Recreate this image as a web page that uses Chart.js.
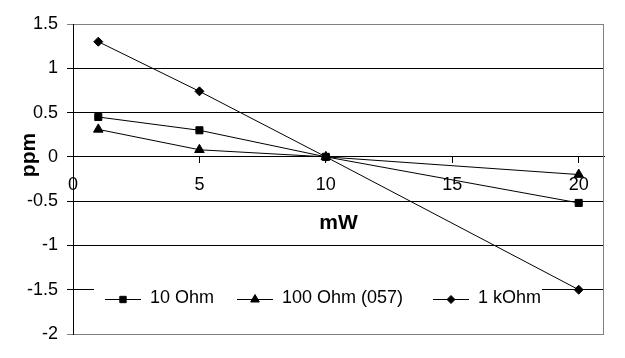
<!DOCTYPE html>
<html>
<head>
<meta charset="utf-8">
<script src="https://cdn.jsdelivr.net/npm/chart.js@4/dist/chart.umd.min.js"></script>
<style>
  html, body { margin: 0; padding: 0; background: #ffffff; }
  #wrap { width: 625px; height: 358px; position: relative; }
</style>
</head>
<body>
<div id="wrap"><canvas id="c" width="625" height="358"></canvas></div>
<script>
// ---- data ----
const xValues = [1, 5, 10, 20];            // mW
const ohm10   = [0.45, 0.30, 0.00, -0.52]; // ppm
const ohm100  = [0.31, 0.08, 0.00, -0.20];
const kohm1   = [1.30, 0.74, 0.00, -1.50];
const seriesNames = ['10 Ohm', '100 Ohm (057)', '1 kOhm'];
const pointStyles = ['rect', 'triangle', 'rectRot'];
const xTickValues = [0, 5, 10, 15, 20];
const yMin = -2, yMax = 1.5, yStep = 0.5;
const xMin = 0, xMax = 21;
const xTitle = 'mW';
const yTitle = 'ppm';

const FONT = "'Liberation Sans', Arial, sans-serif";
const seriesValues = [ohm10, ohm100, kohm1];

function pts(vals) { return xValues.map((x, i) => ({ x: x, y: vals[i] })); }

const radii = { rect: 5, triangle: 5.5, rectRot: 4.5 };

const datasets = seriesValues.map((vals, i) => ({
  label: seriesNames[i],
  data: pts(vals),
  borderColor: '#000000',
  backgroundColor: '#000000',
  borderWidth: 1,
  pointStyle: pointStyles[i],
  pointRadius: radii[pointStyles[i]],
  pointBorderWidth: 1,
  pointBackgroundColor: '#000000',
  pointBorderColor: '#000000',
  tension: 0,
  fill: false
}));

// custom legend drawn inside plot area + right border + y title
const decor = {
  id: 'decor',
  beforeDatasetsDraw(chart) {
    const { ctx, chartArea: a } = chart;
    ctx.save();
    ctx.strokeStyle = '#808080';
    ctx.lineWidth = 1;
    ctx.beginPath();
    ctx.moveTo(Math.round(a.right) - 0.5, a.top);
    ctx.lineTo(Math.round(a.right) - 0.5, a.bottom);
    ctx.stroke();
    ctx.restore();
  },
  afterDraw(chart) {
    const { ctx } = chart;
    ctx.save();
    // y axis title
    ctx.fillStyle = '#000';
    ctx.font = 'bold 21px ' + FONT;
    ctx.textAlign = 'center';
    ctx.textBaseline = 'middle';
    ctx.translate(29, 155);
    ctx.rotate(-Math.PI / 2);
    ctx.fillText(yTitle, 0, 0);
    ctx.restore();

    // legend
    ctx.save();
    ctx.fillStyle = '#ffffff';
    ctx.fillRect(94, 280, 448, 38);
    const starts = [105, 237, 433];
    const ly = 299.5;
    ctx.font = '18px ' + FONT;
    ctx.textBaseline = 'middle';
    ctx.textAlign = 'left';
    chart.data.datasets.forEach((ds, i) => {
      const x0 = starts[i];
      ctx.strokeStyle = '#000';
      ctx.fillStyle = '#000';
      ctx.lineWidth = 1;
      ctx.beginPath();
      ctx.moveTo(x0, ly);
      ctx.lineTo(x0 + 36, ly);
      ctx.stroke();
      Chart.helpers.drawPoint(ctx, {
        pointStyle: ds.pointStyle,
        radius: ds.pointStyle === 'rect' ? 4.5 : ds.pointStyle === 'triangle' ? 5 : 4,
        rotation: 0,
        borderWidth: 1
      }, x0 + 18, ly);
      ctx.fillStyle = '#000';
      ctx.fillText(ds.label, x0 + 45, ly - 1);
    });
    ctx.restore();
  }
};

new Chart(document.getElementById('c'), {
  type: 'line',
  data: { datasets: datasets },
  plugins: [decor],
  options: {
    responsive: false,
    animation: false,
    events: [],
    layout: { padding: { top: 24, bottom: 24, right: 21, left: 0 } },
    plugins: {
      legend: { display: false },
      tooltip: { enabled: false }
    },
    scales: {
      x: {
        type: 'linear',
        position: { y: 0 },
        min: xMin,
        max: xMax,
        afterBuildTicks(scale) {
          scale.ticks = xTickValues.map(v => ({ value: v }));
        },
        ticks: {
          color: '#000',
          font: { family: FONT, size: 18 },
          padding: 11,
          maxRotation: 0,
          autoSkip: false,
          callback: (v) => String(v)
        },
        grid: {
          drawOnChartArea: false,
          drawTicks: true,
          tickLength: 6,
          color: '#000'
        },
        border: { display: true, color: '#000', width: 1 },
        title: {
          display: true,
          text: xTitle,
          color: '#000',
          font: { family: FONT, size: 21, weight: 'bold' }
        }
      },
      y: {
        type: 'linear',
        position: 'left',
        min: yMin,
        max: yMax,
        afterFit(scale) { scale.width = 73; },
        ticks: {
          stepSize: yStep,
          color: '#000',
          font: { family: FONT, size: 18 },
          padding: 9,
          callback: (v) => String(v)
        },
        grid: {
          drawTicks: true,
          tickLength: 6,
          color: (ctx) => (ctx.tick && (ctx.tick.value === yMax || ctx.tick.value === yMin)) ? '#808080' : '#000'
        },
        border: { display: true, color: '#000', width: 1 }
      }
    }
  }
});
</script>
</body>
</html>
